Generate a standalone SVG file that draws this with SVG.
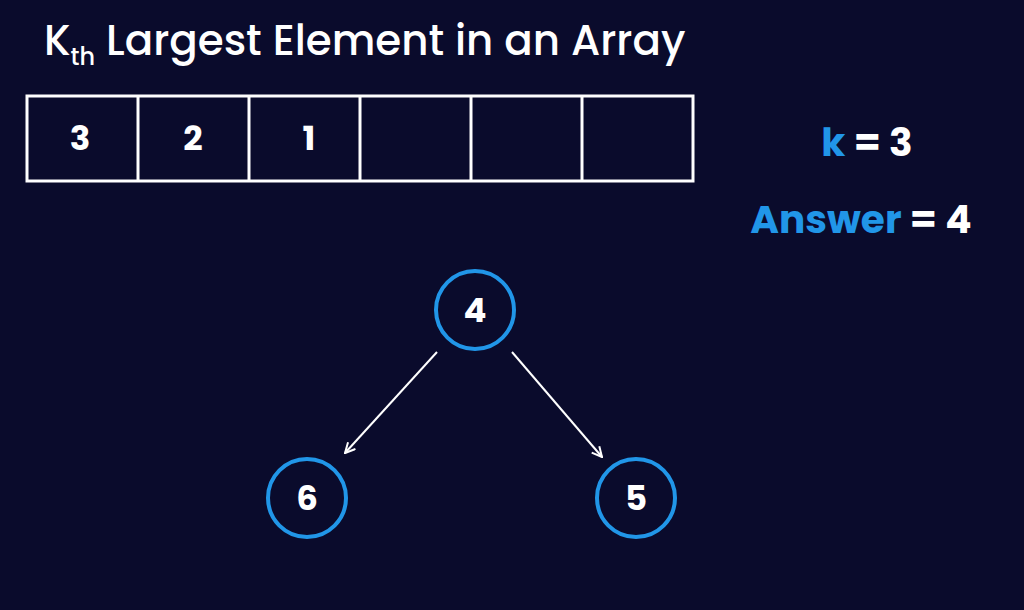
<svg xmlns="http://www.w3.org/2000/svg" width="1024" height="610" viewBox="0 0 1024 610">
<defs>
<style>
.t{font-family:"Poppins","Inter","Liberation Sans",sans-serif;}
.cell{fill:none;stroke:#ffffff;stroke-width:3}
.num{fill:#ffffff;font-weight:bold;font-size:34px;text-anchor:middle}
.node circle{fill:#0a0b2c;stroke:#2196e8;stroke-width:4}
.blue{fill:#2196e8;font-weight:bold;font-size:39px;text-anchor:middle}
.edge{stroke:#ffffff;stroke-width:2;fill:none}
</style>
<marker id="ah" viewBox="0 0 12 12" refX="11" refY="6" markerWidth="12" markerHeight="12" markerUnits="userSpaceOnUse" orient="auto">
<path d="M1,1 L11,6 L1,11" fill="none" stroke="#ffffff" stroke-width="2"/>
</marker>
</defs>
<rect width="1024" height="610" fill="#0a0b2c"/>
<text class="t" x="44" y="55" fill="#ffffff" font-size="42" font-weight="500">K<tspan font-size="24" dy="10">th</tspan><tspan dy="-10"> Largest Element in an Array</tspan></text>
<g id="array">
<rect class="cell" x="27" y="96" width="666" height="85"/>
<line class="cell" x1="138" y1="96" x2="138" y2="181"/>
<line class="cell" x1="249" y1="96" x2="249" y2="181"/>
<line class="cell" x1="360" y1="96" x2="360" y2="181"/>
<line class="cell" x1="471" y1="96" x2="471" y2="181"/>
<line class="cell" x1="582" y1="96" x2="582" y2="181"/>
<text class="t num" x="80" y="150">3</text>
<text class="t num" x="193" y="150">2</text>
<text class="t num" x="309" y="150">1</text>
</g>
<text id="k" class="t blue" x="867" y="156">k <tspan fill="#ffffff">= 3</tspan></text>
<text id="answer" class="t blue" x="861" y="233">Answer <tspan fill="#ffffff">= 4</tspan></text>
<g id="connectors">
<line class="edge" x1="437" y1="352" x2="345" y2="453" marker-end="url(#ah)"/>
<line class="edge" x1="512" y1="352" x2="602" y2="457" marker-end="url(#ah)"/>
</g>
<g id="n4" class="node"><circle cx="475" cy="310" r="39"/><text class="t num" x="475" y="322">4</text></g>
<g id="n6" class="node"><circle cx="307" cy="498" r="39"/><text class="t num" x="307" y="510">6</text></g>
<g id="n5" class="node"><circle cx="636" cy="498" r="39"/><text class="t num" x="636" y="510">5</text></g>
</svg>
